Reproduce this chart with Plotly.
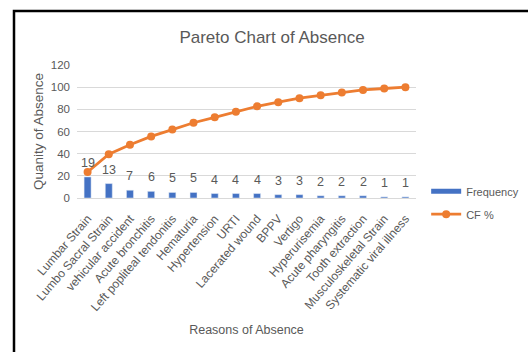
import plotly.graph_objects as go

reasons = ["Lumbar Strain", "Lumbo Sacral Strain", "vehicular accident", "Acute bronchitis",
           "Left popliteal tendonitis", "Hematuria", "Hypertension", "URTI", "Lacerated wound",
           "BPPV", "Vertigo", "Hyperurisemia", "Acute pharyngitis", "Tooth extraction",
           "Musculoskeletal Strain", "Systematic viral illness"]
frequency = [19, 13, 7, 6, 5, 5, 4, 4, 4, 3, 3, 2, 2, 2, 1, 1]
cf_pct = [23.5, 39.5, 48.1, 55.6, 61.7, 67.9, 72.8, 77.8, 82.7, 86.4, 90.1, 92.6, 95.1, 97.5, 98.8, 100.0]
y_ticks = [0, 20, 40, 60, 80, 100, 120]

FONT = "Liberation Sans"
GRAY = "#595959"
BLUE = "#4472C4"
ORANGE = "#ED7D31"

fig = go.Figure()
fig.add_trace(go.Bar(
    x=reasons, y=frequency, name="Frequency", marker_color=BLUE, width=0.33,
    showlegend=False,
))
# legend entry for the bars, drawn as a thick line as in the reference
fig.add_trace(go.Scatter(
    x=[None], y=[None], name="Frequency", mode="lines",
    line=dict(color=BLUE, width=5), legendgroup="a",
))
fig.add_trace(go.Scatter(
    x=reasons, y=cf_pct, name="CF %", mode="lines+markers",
    line=dict(color=ORANGE, width=2.8), marker=dict(size=8, color=ORANGE),
    legendgroup="b", cliponaxis=False,
))

# data labels above the bars (drawn on top of the line, as in the reference)
for r, v in zip(reasons, frequency):
    fig.add_annotation(x=r, y=v, text=str(v), showarrow=False, yanchor="middle",
                       yshift=14, font=dict(family=FONT, size=12.5, color=GRAY))

fig.update_layout(
    width=528, height=352,
    margin=dict(l=77, r=112, t=65, b=154, autoexpand=False),
    paper_bgcolor="white", plot_bgcolor="white",
    font=dict(family=FONT, color=GRAY, size=11),
    title=dict(text="Pareto Chart of Absence", x=272 / 528, xanchor="center",
               y=1 - 37 / 352, yanchor="middle", font=dict(size=17, color=GRAY)),
    showlegend=True,
    legend=dict(x=1.03, y=0.16, xanchor="left", yanchor="top", bgcolor="rgba(0,0,0,0)",
                font=dict(size=11, color=GRAY), traceorder="grouped", tracegroupgap=4),
)
fig.update_xaxes(type="category", range=[-0.5, len(reasons) - 0.5],
                 tickangle=-49, tickfont=dict(size=12, color=GRAY), showline=True,
                 linecolor="#d9d9d9", linewidth=1, ticks="", ticklabelstandoff=8,
                 automargin=False,
                 title=dict(text="Reasons of Absence", font=dict(size=12.5, color=GRAY), standoff=12))
fig.update_yaxes(range=[0, 120], tickvals=y_ticks, tickfont=dict(size=11.5, color=GRAY),
                 gridcolor="#d9d9d9", gridwidth=1, zeroline=False, ticks="", ticklabelstandoff=6,
                 automargin=False,
                 title=dict(text="Quanity of Absence", font=dict(size=13.5, color=GRAY), standoff=4))

fig.add_shape(type="rect", xref="paper", yref="paper",
              x0=(14 - 77) / 339, x1=2, y0=-2, y1=(198 - 11) / 133,
              line=dict(color="black", width=2.5), fillcolor="rgba(0,0,0,0)", layer="above")

fig.write_html("out.html")
